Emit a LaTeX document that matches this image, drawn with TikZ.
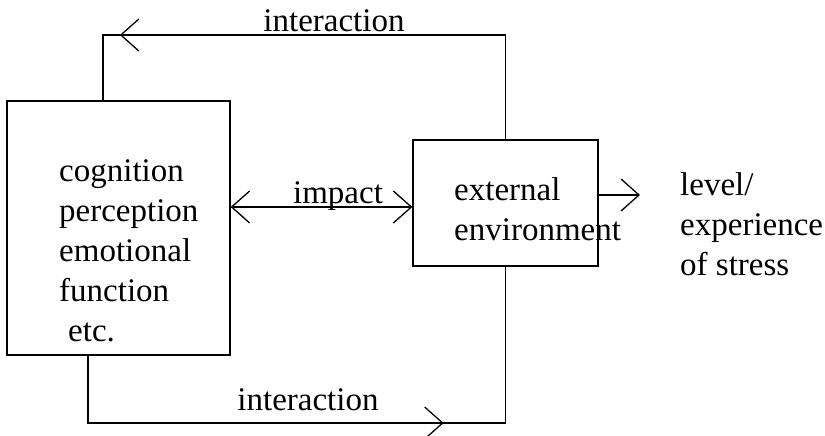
\documentclass[tikz,border=0pt]{standalone}
\usepackage{fontspec}
\setmainfont{Liberation Serif}
\usetikzlibrary{arrows.meta,decorations.markings}
\begin{document}
\begin{tikzpicture}[x=1pt,y=-1pt,
  >={Straight Barb[length=18pt,width=32pt]},
  every node/.style={font=\fontsize{33}{40}\selectfont, inner sep=0pt},
  boxnode/.style={draw, line width=1.3pt, inner sep=0pt},
  conn/.style={line width=1.3pt},
  lbl/.style={anchor=base},
  blocktext/.style={align=left, anchor=north west}]
\useasboundingbox (0,0) rectangle (825,436);
% boxes
\node[boxnode, minimum width=223pt, minimum height=254pt] (L) at (118.5,228) {};
\node[boxnode, minimum width=185pt, minimum height=126pt] (R) at (505.5,203) {};
% texts
\node[blocktext] (Ltext) at (59,159) {cognition\\perception\\emotional\\function\\\hspace*{9pt}etc.};
\node[blocktext] (Rtext) at (454,177) {external\\environment};
\node[blocktext] (out) at (680,172) {level/\\experience\\of stress};
% connector coordinates
\coordinate (tl) at (103,35);
\coordinate (bl) at (88,423);
\coordinate (imp) at (0,207);
\coordinate (outp) at (640,195);
% top interaction
\draw[conn, postaction={decorate}, decoration={markings, mark=at position 490pt with {\arrow{>}}}]
  (R.north) |- (tl) -- (tl |- L.north);
\node[lbl] (t1) at (334,32) {interaction};
% bottom interaction
\draw[conn, postaction={decorate}, decoration={markings, mark=at position 423pt with {\arrow{>}}}]
  (bl |- L.south) -- (bl) -| (R.south);
\node[lbl] (t2) at (308,410) {interaction};
% impact
\draw[conn, <->] (L.east |- imp) -- (R.west |- imp);
\node[lbl] (t3) at (338,203) {impact};
% output
\draw[conn, ->] (R.east |- outp) -- (outp);
\end{tikzpicture}
\end{document}
